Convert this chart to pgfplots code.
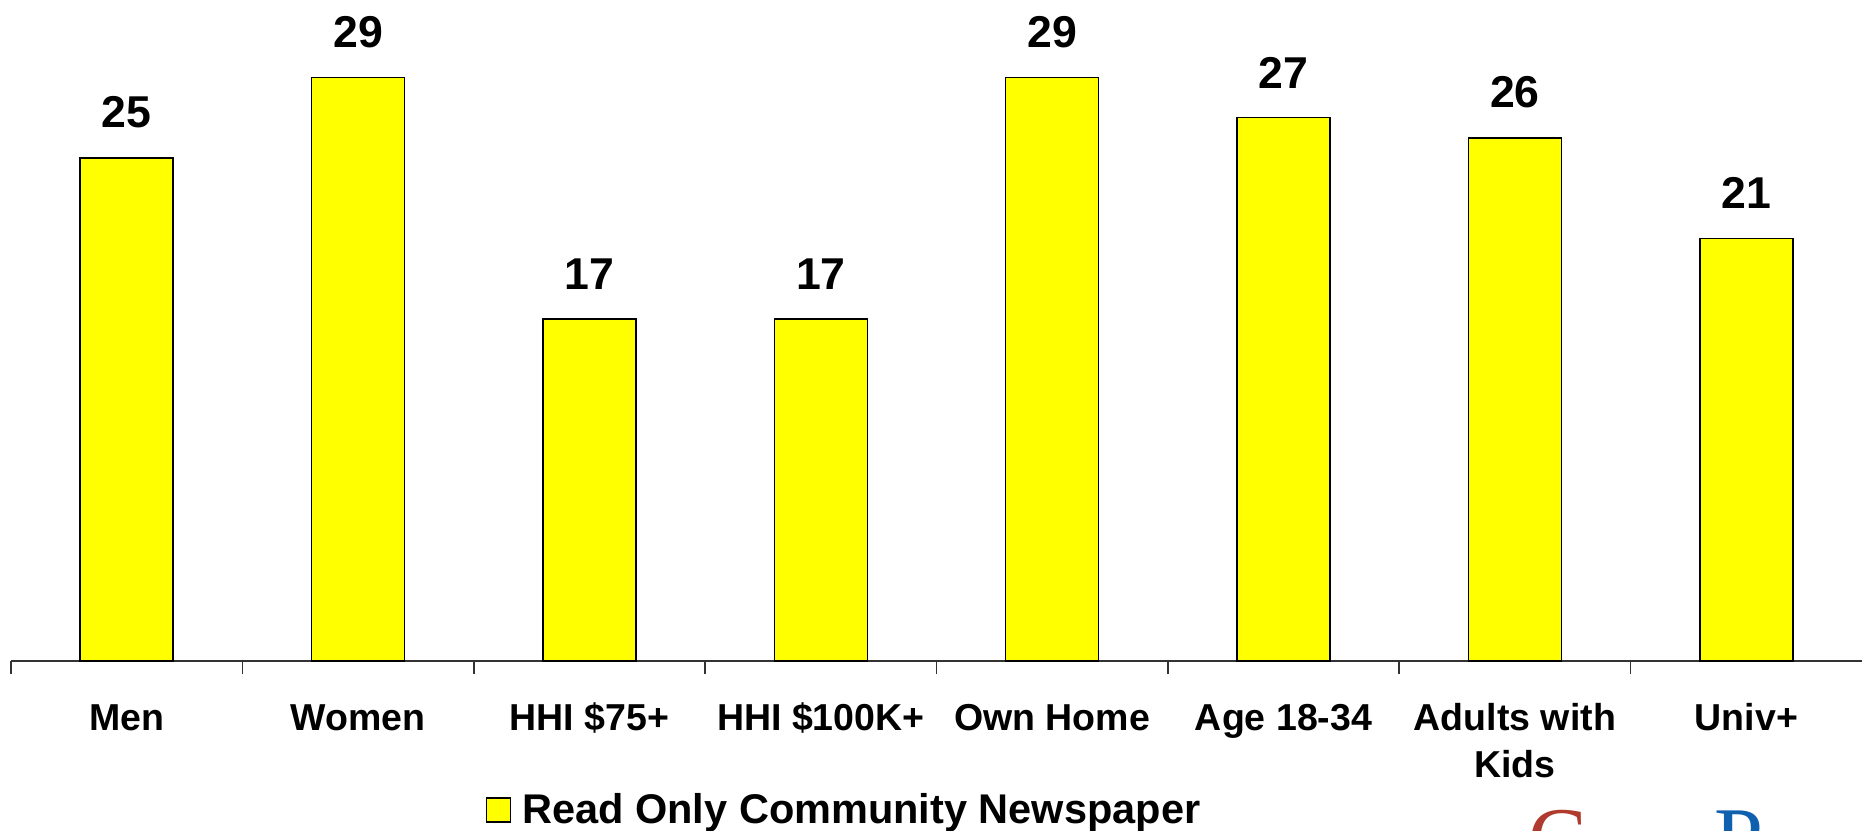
\documentclass[border=0pt]{standalone}
\usepackage{fontspec}
\setmainfont{Liberation Sans}
\newfontfamily\seriflogo{Liberation Serif}
\usepackage{pgfplots}
\pgfplotsset{compat=1.18}
\definecolor{barY}{RGB}{255,255,0}
\definecolor{logoR}{RGB}{176,58,46}
\definecolor{logoB}{RGB}{16,96,176}
\begin{document}
\begin{tikzpicture}
\useasboundingbox (0,0) rectangle (931bp,415.5bp);
\begin{axis}[
  at={(5.5bp,85bp)}, anchor=south west,
  scale only axis, width=925.5bp, height=330.5bp,
  xmin=-0.5, xmax=7.5, ymin=0, ymax=32.85,
  axis x line=bottom, axis y line=none,
  axis line style={-, draw=black!80, line width=0.8bp},
  ybar, bar width=46.5bp,
  clip=false,
  xtick={0,...,7},
  xticklabels={\rule{0pt}{14bp}Men,\rule{0pt}{14bp}Women,\rule{0pt}{14bp}HHI \$75+,\rule{0pt}{14bp}HHI \$100K+,\rule{0pt}{14bp}Own Home,\rule{0pt}{14bp}Age 18-34,{\rule{0pt}{14bp}Adults with\\Kids},\rule{0pt}{14bp}Univ+},
  major tick length=0pt,
  xticklabel style={font=\bfseries\fontsize{18.75bp}{23.75bp}\selectfont, align=center, anchor=north, yshift=-20.5bp, inner sep=0pt},
  extra x ticks={-0.5,0.5,...,6.5},
  extra x tick labels={},
  extra x tick style={major tick length=6.5bp, tick align=outside, tick style={draw=black!80, line width=0.8bp}},
  ytick=\empty,
  nodes near coords,
  /pgf/number format/assume math mode=true,
  every node near coord/.append style={font=\bfseries\fontsize{22.3bp}{26bp}\selectfont, inner sep=0pt, yshift=14.5bp},
  legend style={at={(0.4506,-0.2254)}, anchor=center, draw=none, fill=none, inner sep=0pt,
    font=\bfseries\fontsize{20.75bp}{24bp}\selectfont},
  legend image code/.code={\draw[#1, draw=black, line width=0.8bp] (0bp,-6bp) rectangle (12bp,6bp);},
]
\addplot[fill=barY, draw=black, line width=0.7bp] coordinates {(0,25) (1,29) (2,17) (3,17) (4,29) (5,27) (6,26) (7,21)};
\legend{\hspace{3.5bp}Read Only Community Newspaper}
\end{axis}
\node[anchor=north west, inner sep=0pt, text=logoR, font=\seriflogo\fontsize{44bp}{44bp}\selectfont] at (764bp,10.5bp) {C};
\node[anchor=north west, inner sep=0pt, text=logoB, font=\seriflogo\fontsize{44bp}{44bp}\selectfont] at (857bp,10.5bp) {P};
\end{tikzpicture}
\end{document}
